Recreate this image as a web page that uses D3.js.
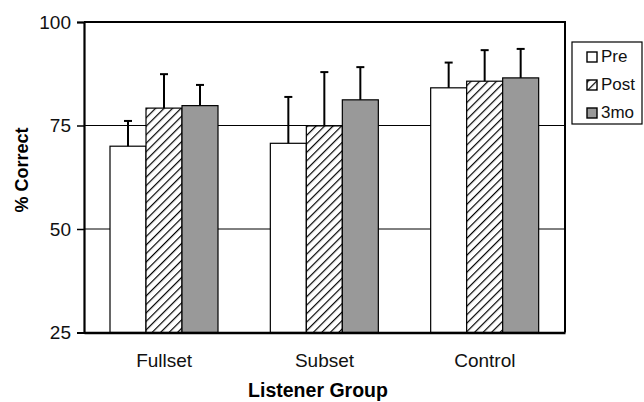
<!DOCTYPE html>
<html><head><meta charset="utf-8">
<script src="https://cdn.jsdelivr.net/npm/d3@7/dist/d3.min.js"></script>
<style>body{margin:0;background:#fff}svg{display:block}text{font-family:"Liberation Sans",Arial,sans-serif}</style>
</head><body><svg id="c" width="644" height="402"></svg>
<script>
const groups = ["Fullset", "Subset", "Control"];
const seriesNames = ["Pre", "Post", "3mo"];
const pre = [70.0, 70.7, 84.1];
const post = [79.2, 74.9, 85.7];
const mo3 = [79.8, 81.2, 86.5];
const preErr = [6.1, 11.2, 6.1];
const postErr = [8.2, 13.0, 7.5];
const mo3Err = [5.0, 7.9, 7.0];
const yTicks = [25, 50, 75, 100];

const svg = d3.select("#c");
const L = 84, R = 565, T = 22, B = 332.5;
const y = d3.scaleLinear().domain([25, 100]).range([B, T]);
const x0 = d3.scaleBand().domain(groups).range([L, R]).paddingInner(0).paddingOuter(0);
const x1 = d3.scaleBand().domain(seriesNames).range([26, 134]);

const defs = svg.append("defs");
const pat = defs.append("pattern").attr("id","hatch").attr("patternUnits","userSpaceOnUse")
  .attr("width",6).attr("height",6).attr("patternTransform","rotate(45)");
pat.append("rect").attr("width",6).attr("height",6).attr("fill","#fff");
pat.append("line").attr("x1",0).attr("y1",0).attr("x2",0).attr("y2",6).attr("stroke","#000").attr("stroke-width",2.4);

const fills = {"Pre":"#fff","Post":"url(#hatch)","3mo":"#999999"};
const vals = {"Pre":pre,"Post":post,"3mo":mo3};
const errs = {"Pre":preErr,"Post":postErr,"3mo":mo3Err};

// gridlines
svg.append("g").selectAll("line").data([50,75]).join("line")
  .attr("x1",L).attr("x2",R).attr("y1",d=>y(d)).attr("y2",d=>y(d))
  .attr("stroke","#000").attr("stroke-width",1);

// top and right border
svg.append("path").attr("d",`M${L},${y(100)}H${R}V${B}`).attr("fill","none").attr("stroke","#000").attr("stroke-width",2);

// bars
const data = [];
groups.forEach((g,i)=>seriesNames.forEach(s=>data.push({g,s,v:vals[s][i],e:errs[s][i]})));
const bx = d=>x0(d.g)+x1(d.s);
svg.append("g").selectAll("rect").data(data).join("rect")
  .attr("x",bx).attr("width",x1.bandwidth()).attr("y",d=>y(d.v)).attr("height",d=>B-y(d.v))
  .attr("fill",d=>fills[d.s]).attr("stroke","#000").attr("stroke-width",1.2);
// error bars
const eg = svg.append("g").attr("stroke","#000").attr("stroke-width",2);
eg.selectAll("line.v").data(data).join("line").attr("class","v")
  .attr("x1",d=>bx(d)+x1.bandwidth()/2).attr("x2",d=>bx(d)+x1.bandwidth()/2)
  .attr("y1",d=>y(d.v)).attr("y2",d=>y(d.v+d.e));
eg.selectAll("line.h").data(data).join("line").attr("class","h")
  .attr("x1",d=>bx(d)+x1.bandwidth()/2-4).attr("x2",d=>bx(d)+x1.bandwidth()/2+4)
  .attr("y1",d=>y(d.v+d.e)).attr("y2",d=>y(d.v+d.e));

// y axis
const ya = svg.append("g").attr("transform",`translate(${L},0)`)
  .call(d3.axisLeft(y).tickValues(yTicks).tickSize(7).tickPadding(6));
ya.select(".domain").attr("stroke-width",2.2);
ya.selectAll(".tick line").attr("stroke-width",1.5);
ya.selectAll("text").attr("font-size",19).attr("fill","#111").attr("font-family","Liberation Sans, Arial, sans-serif");

// x axis
const xa = svg.append("g").attr("transform",`translate(0,${B})`)
  .call(d3.axisBottom(x0).tickSize(0).tickPadding(21));
xa.select(".domain").attr("stroke-width",2.5);
xa.selectAll("text").attr("font-size",19).attr("fill","#111").attr("font-family","Liberation Sans, Arial, sans-serif");

// axis titles
svg.append("text").attr("x",318).attr("y",397).attr("text-anchor","middle")
  .attr("font-size",19.5).attr("font-weight","bold").text("Listener Group");
svg.append("text").attr("transform","translate(28,170) rotate(-90)").attr("text-anchor","middle")
  .attr("font-size",18).attr("font-weight","bold").text("% Correct");

// legend
const lg = svg.append("g");
lg.append("rect").attr("x",572).attr("y",42).attr("width",70).attr("height",82)
  .attr("fill","#fff").attr("stroke","#000").attr("stroke-width",1.2);
const ly = d3.scalePoint().domain(seriesNames).range([62, 118]);
const li = lg.selectAll("g").data(seriesNames).join("g").attr("transform",d=>`translate(587,${ly(d)})`);
li.append("rect").attr("x",0).attr("y",-10).attr("width",10).attr("height",10)
  .attr("fill",d=>fills[d]).attr("stroke","#000").attr("stroke-width",1.4);
li.append("text").attr("x",14).attr("y",0).attr("font-size",17).attr("fill","#111").text(d=>d);
</script></body></html>
